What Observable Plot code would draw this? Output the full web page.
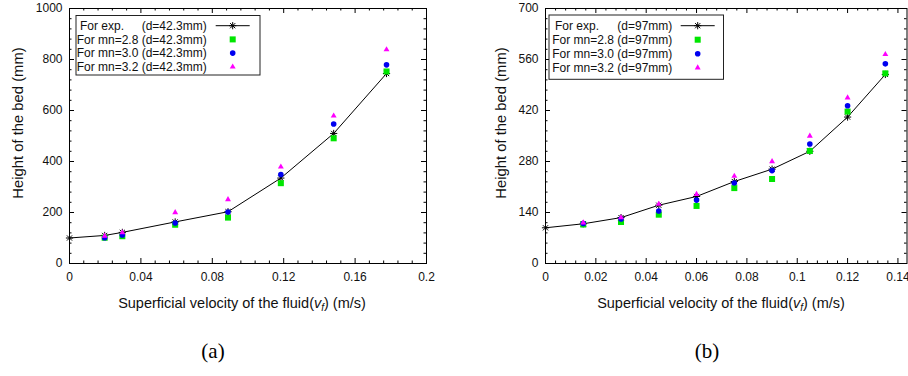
<!DOCTYPE html>
<html>
<head>
<meta charset="utf-8">
<script src="https://cdn.jsdelivr.net/npm/d3@7"></script>
<script src="https://cdn.jsdelivr.net/npm/@observablehq/plot@0.6"></script>
<style>
  body { margin: 0; background: #fff; }
  #wrap { position: relative; width: 908px; height: 376px; overflow: hidden; font-family: "Liberation Sans", Arial, sans-serif; }
  .panel { position: absolute; top: 0; }
  .cap { position: absolute; top: 339px; font-family: "Liberation Serif", "Times New Roman", serif; font-size: 21px; color: #000; transform: translateX(-50%); }
</style>
</head>
<body>
<div id="wrap">
  <div class="panel" id="pa" style="left:0"></div>
  <div class="panel" id="pb" style="left:454px"></div>
  <div class="cap" style="left:213px">(a)</div>
  <div class="cap" style="left:707px">(b)</div>
</div>
<script>
// Panel (a): column diameter 42.3 mm
const velocityA = [0, 0.0197, 0.0296, 0.0592, 0.0888, 0.1184, 0.148, 0.1776];
const expA  = [100, 110, 122, 163, 203, 335, 510, 745];
const mn28A = [null, 101, 107, 152, 180, 315, 491, 753];
const mn30A = [null, 101, 112, 159, 202, 349, 547, 779];
const mn32A = [null, 108, 121, 200, 251, 379, 579, 839];
const xTicksA = [0, 0.04, 0.08, 0.12, 0.16, 0.2];
const yTicksA = [0, 200, 400, 600, 800, 1000];

// Panel (b): column diameter 97 mm
const velocityB = [0, 0.015, 0.03, 0.045, 0.06, 0.075, 0.09, 0.105, 0.12, 0.135];
const expB  = [98, 109, 126, 160, 184, 225, 259, 308, 402, 519];
const mn28B = [null, 107, 114, 134, 158, 207, 232, 309, 417, 522];
const mn30B = [null, 110, 122, 144, 174, 221, 255, 328, 433, 548];
const mn32B = [null, 112, 126, 163, 190, 240, 280, 350, 455, 574];
const xTicksB = [0, 0.02, 0.04, 0.06, 0.08, 0.1, 0.12, 0.14];
const yTicksB = [0, 140, 280, 420, 560, 700];

const seriesNames = ["For exp.", "For mn=2.8", "For mn=3.0", "For mn=3.2"];
const diameterA = "(d=42.3mm)";
const diameterB = "(d=97mm)";
const yTitle = "Height of the bed (mm)";

const GREEN = "#00e600", BLUE = "#0000f0", MAGENTA = "#ff00ff";

// gnuplot-style 8-armed star (plus + cross)
const star = {
  draw(ctx, size) {
    const r = Math.sqrt(size / Math.PI), q = r * 0.72;
    ctx.moveTo(-r, 0); ctx.lineTo(r, 0);
    ctx.moveTo(0, -r); ctx.lineTo(0, r);
    ctx.moveTo(-q, -q); ctx.lineTo(q, q);
    ctx.moveTo(-q, q); ctx.lineTo(q, -q);
  }
};

// five sub-intervals between consecutive major ticks
const minorOf = majors => majors.slice(1).flatMap((b, i) => {
  const a = majors[i];
  return [1, 2, 3, 4].map(k => a + (b - a) * k / 5);
});

function drawPanel(el, cfg) {
  const W = 454, H = 320, mt = 8, mb = 57;
  const rows = arr => cfg.v.map((x, i) => ({x, y: arr[i]})).filter(d => d.y != null);
  const xMax = cfg.xMax, yMax = cfg.yTicks[cfg.yTicks.length - 1];
  const xMinor = minorOf(cfg.xTicks), yMinor = minorOf(cfg.yTicks);
  const inward = (xs, ys, len) => [
    Plot.ruleX(xs, {x: d => d, y1: 0, y2: 0, insetBottom: len, stroke: "#000"}),
    Plot.ruleX(xs, {x: d => d, y1: yMax, y2: yMax, insetTop: len, stroke: "#000"}),
    Plot.ruleY(ys, {y: d => d, x1: 0, x2: 0, insetLeft: len, stroke: "#000"}),
    Plot.ruleY(ys, {y: d => d, x1: xMax, x2: xMax, insetRight: len, stroke: "#000"})
  ];
  const svg = Plot.plot({
    width: W, height: H,
    marginLeft: cfg.ml, marginRight: cfg.mr, marginTop: mt, marginBottom: mb,
    x: {domain: [0, xMax]},
    y: {domain: [0, yMax]},
    style: {fontFamily: "'Liberation Sans', Arial, sans-serif", fontSize: "12px", color: "#111", background: "transparent", overflow: "visible"},
    marks: [
      Plot.axisX(cfg.xTicks, {tickSize: 0, tickPadding: 9, label: null, tickFormat: d => String(d)}),
      Plot.axisY(cfg.yTicks, {tickSize: 0, tickPadding: 7, label: null, tickFormat: d => String(d)}),
      ...inward(cfg.xTicks, cfg.yTicks, 5),
      ...inward(xMinor, yMinor, 2.5),
      Plot.frame({stroke: "#000"}),
      Plot.line(rows(cfg.exp), {x: "x", y: "y", stroke: "#000", strokeWidth: 1}),
      Plot.dot(rows(cfg.exp), {x: "x", y: "y", symbol: star, r: 3.6, stroke: "#000", strokeWidth: 1, fill: "none"}),
      Plot.dot(rows(cfg.s28), {x: "x", y: "y", symbol: "square", r: 3.4, fill: GREEN}),
      Plot.dot(rows(cfg.s30), {x: "x", y: "y", symbol: "circle", r: 2.8, fill: BLUE}),
      Plot.dot(rows(cfg.s32), {x: "x", y: "y", symbol: "triangle", r: 2.2, fill: MAGENTA})
    ]
  });
  el.appendChild(svg);

  const s = d3.select(svg);
  // axis titles
  s.append("text")
    .attr("transform", `translate(${cfg.yLabelX},123) rotate(-90)`)
    .attr("text-anchor", "middle").attr("dominant-baseline", "central")
    .attr("font-size", 14.8).attr("fill", "#111").text(yTitle);
  const xt = s.append("text").attr("x", cfg.xLabelX).attr("y", 308)
    .attr("text-anchor", "middle").attr("font-size", 14.5).attr("fill", "#111");
  xt.append("tspan").text("Superficial velocity of the fluid(");
  xt.append("tspan").attr("font-style", "italic").text("v");
  xt.append("tspan").attr("font-style", "italic").attr("font-size", 10).attr("dy", 3).text("f");
  xt.append("tspan").attr("dy", -3).text(") (m/s)");

  // key box
  const L = cfg.legend;
  const g = s.append("g").attr("font-size", 12).attr("fill", "#111").attr("text-anchor", "start");
  g.append("rect").attr("x", L.x0).attr("y", L.y0).attr("width", L.x1 - L.x0).attr("height", L.y1 - L.y0)
    .attr("fill", "#fff").attr("stroke", "#222").attr("stroke-width", 1);
  const rowY = i => L.r0 + i * L.dr;
  g.append("text").attr("x", L.tl).attr("y", rowY(0)).attr("dy", "0.35em").attr("text-anchor", "start").text(seriesNames[0]);
  g.append("text").attr("x", L.tr).attr("y", rowY(0)).attr("dy", "0.35em").attr("text-anchor", "end").text(cfg.diameter);
  for (let i = 1; i < 4; i++) {
    g.append("text").attr("x", L.tr).attr("y", rowY(i)).attr("dy", "0.35em").attr("text-anchor", "end")
      .text(`${seriesNames[i]} ${cfg.diameter}`);
  }
  g.append("line").attr("x1", L.m - 17).attr("x2", L.m + 17).attr("y1", rowY(0)).attr("y2", rowY(0)).attr("stroke", "#000");
  const sym = (type, r) => d3.symbol(type, Math.PI * r * r)();
  g.append("path").attr("transform", `translate(${L.m},${rowY(0)})`).attr("d", sym(star, 3.6)).attr("stroke", "#000").attr("fill", "none");
  g.append("path").attr("transform", `translate(${L.m},${rowY(1)})`).attr("d", sym(d3.symbolSquare, 3.4)).attr("fill", GREEN);
  g.append("path").attr("transform", `translate(${L.m},${rowY(2)})`).attr("d", sym(d3.symbolCircle, 2.8)).attr("fill", BLUE);
  g.append("path").attr("transform", `translate(${L.m},${rowY(3)})`).attr("d", sym(d3.symbolTriangle, 2.2)).attr("fill", MAGENTA);
}

drawPanel(document.getElementById("pa"), {
  v: velocityA, exp: expA, s28: mn28A, s30: mn30A, s32: mn32A,
  xTicks: xTicksA, yTicks: yTicksA, xMax: 0.2, ml: 69, mr: 28,
  diameter: diameterA, yLabelX: 17.5, xLabelX: 242,
  legend: {x0: 76, y0: 15.5, x1: 260, y1: 75, r0: 25.7, dr: 13.7, tl: 80, tr: 206.7, m: 232.7}
});

// the frame of panel (b) runs on past 0.14 to the page edge
drawPanel(document.getElementById("pb"), {
  v: velocityB, exp: expB, s28: mn28B, s30: mn30B, s32: mn32B,
  xTicks: xTicksB, yTicks: yTicksB, xMax: 0.1436, ml: 91, mr: 1.5,
  diameter: diameterB, yLabelX: 46.5, xLabelX: 267,
  legend: {x0: 95, y0: 15, x1: 269.5, y1: 79.3, r0: 25.7, dr: 14, tl: 101, tr: 218.3, m: 243.7}
});
</script>
</body>
</html>
